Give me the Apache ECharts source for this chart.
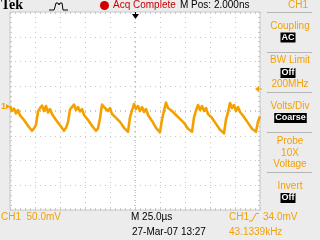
<!DOCTYPE html>
<html><head><meta charset="utf-8">
<script src="https://cdn.jsdelivr.net/npm/echarts@6/dist/echarts.min.js"></script>
<style>html,body{margin:0;padding:0;background:#ececec;}#c{width:320px;height:240px;}</style>
</head><body><div id="c"></div>
<script>
// Sample grid of the CH1 record (time in µs, 25 µs/div, 10 div)
const sampleStartUs = -125;
const sampleStepUs = 2;
const ch1mV = [10,0,5,-5,2,-9,-6,-18,-17,-30,-26,-40,-35,
  -28,-1,6,11,0,10,-3,4,-6,-5,-18,-16,-29,-28,-40,-34,
  -23,3,7,13,2,8,-1,4,-8,-5,-18,-16,-30,-29,-40,-35,
  -15,13,8,12,0,6,-6,-2,-14,-10,-22,-20,-34,-32,-42,
  -13,1,14,4,10,0,8,-2,4,-8,-6,-20,-20,-34,-32,-43,
  -17,1,17,6,10,0,4,-8,-4,-16,-12,-24,-22,-36,-32,-42,
  -13,1,12,2,10,0,6,-6,-2,-14,-12,-26,-24,-38,-34,-45,
  -17,-3,16,6,12,0,8,-2,2,-12,-10,-24,-22,-36,-32,-42,-21,-11];
// Axis ranges
const timeRange = [-125, 125];     // µs
const voltRange = [-200, 200];     // mV
const timeDiv = 25, voltDiv = 50;
// Menu texts
const topTexts = {brand:'Tek', acq:'Acq Complete', mpos:'M Pos: 2.000ns', ch:'CH1'};
const menuLabels = ['Coupling','BW Limit','200MHz','Volts/Div','Probe','10X','Voltage','Invert'];
const menuValues = ['AC','Off','Coarse','Off'];
const bottomTexts = {scale:'CH1  50.0mV', time:'M 25.0µs', date:'27-Mar-07 13:27', trig:'CH1', trigLevel:'34.0mV', freq:'43.1339kHz'};

const ORANGE = '#f4a100', GRIDC = '#c8c8c8';
const F = '"Liberation Sans", Arial, sans-serif';
function txt(x, y, s, o) {
  return {type:'text', x:x, y:y, silent:true, z:100,
    style:Object.assign({text:s, fill:'#000', font:'10px ' + F, align:'left', verticalAlign:'middle'}, o || {})};
}
function inv(cx, cy, s) {
  return txt(cx, cy, s, {fill:'#fff', backgroundColor:'#000', padding:[1,1,0,1], align:'center', lineHeight:9, font:'bold 9px ' + F});
}
function hline(x1, x2, y, c) {
  return {type:'line', silent:true, shape:{x1:x1, y1:y, x2:x2, y2:y}, style:{stroke:c, lineWidth:1}};
}

const chart = echarts.init(document.getElementById('c'), null, {renderer:'canvas', width:320, height:240});

function tickAxis(pos, interval, min, max, inside, len, extra) {
  return Object.assign({type:'value', min:min, max:max, interval:interval, position:pos,
    axisLine:{show:false, onZero:false}, axisLabel:{show:false}, splitLine:{show:false},
    axisTick:{show:true, inside:inside, length:len, lineStyle:{color:GRIDC}}}, extra || {});
}

const graphics = [
  txt(1, 5.5, topTexts.brand, {font:'bold 14px "Liberation Serif", serif'}),
  {type:'polyline', silent:true, shape:{points:[[49,10],[54,10],[55,7],[56,3],[58,3],[59,5],[60,3],[62,3],[63,10],[68,10]]}, style:{stroke:'#000', lineWidth:1, fill:null}},
  {type:'circle', silent:true, shape:{cx:104.5, cy:5.5, r:4.5}, style:{fill:'#d00000'}},
  txt(113, 5.5, topTexts.acq, {fill:'#c80000'}),
  txt(180, 5.5, topTexts.mpos),
  txt(288, 5.5, topTexts.ch, {fill:ORANGE}),
  hline(267, 312, 12.5, '#b4b4b4'),
  hline(267, 312, 52.5, '#b4b4b4'),
  hline(267, 312, 92.5, '#b4b4b4'),
  hline(267, 312, 132.5, '#b4b4b4'),
  hline(267, 312, 172.5, '#b4b4b4'),
  txt(290, 26, menuLabels[0], {fill:ORANGE, align:'center'}),
  inv(288, 37.5, menuValues[0]),
  txt(290, 60, menuLabels[1], {fill:ORANGE, align:'center'}),
  inv(288, 73, menuValues[1]),
  txt(290, 84, menuLabels[2], {fill:ORANGE, align:'center'}),
  txt(290, 106, menuLabels[3], {fill:ORANGE, align:'center'}),
  inv(290.5, 118, menuValues[2]),
  txt(290, 141, menuLabels[4], {fill:ORANGE, align:'center'}),
  txt(290, 153, menuLabels[5], {fill:ORANGE, align:'center'}),
  txt(290, 164, menuLabels[6], {fill:ORANGE, align:'center'}),
  txt(290, 186, menuLabels[7], {fill:ORANGE, align:'center'}),
  inv(288, 198, menuValues[3]),
  // trigger position marker
  {type:'polygon', silent:true, z:100, shape:{points:[[132,14],[139,14],[135.5,19]]}, style:{fill:'#000'}},
  {type:'line', silent:true, z:100, shape:{x1:135.5, y1:12, x2:135.5, y2:15}, style:{stroke:'#000', lineWidth:1}},
  // channel 1 ground marker
  txt(1, 106.5, '1', {fill:ORANGE, font:'bold 9px ' + F}),
  {type:'polygon', silent:true, z:100, shape:{points:[[6,104],[10,106.5],[6,109]]}, style:{fill:ORANGE}},
  // trigger level marker
  {type:'polygon', silent:true, z:100, shape:{points:[[255,89],[259,86],[259,92]]}, style:{fill:ORANGE}},
  {type:'line', silent:true, z:100, shape:{x1:258, y1:89, x2:262, y2:89}, style:{stroke:ORANGE, lineWidth:1}},
  // bottom readouts
  txt(1, 217, bottomTexts.scale, {fill:ORANGE}),
  txt(131, 217, bottomTexts.time),
  txt(132, 232, bottomTexts.date),
  txt(229, 217, bottomTexts.trig, {fill:ORANGE}),
  {type:'polyline', silent:true, shape:{points:[[249,221],[252,221],[256,213.5],[259,213.5]]}, style:{stroke:ORANGE, lineWidth:1, fill:null}},
  txt(263, 217, bottomTexts.trigLevel, {fill:ORANGE}),
  txt(229, 232, bottomTexts.freq, {fill:ORANGE})
];

chart.setOption({
  animation:false,
  backgroundColor:'#ececec',
  grid:{left:10, top:12, width:250, height:198, show:true, backgroundColor:'#fff', borderColor:GRIDC, borderWidth:1},
  xAxis:[
    {type:'value', min:timeRange[0], max:timeRange[1], interval:timeDiv, axisLine:{show:false, onZero:false}, axisTick:{show:false}, axisLabel:{show:false},
      splitLine:{show:true, lineStyle:{color:GRIDC, type:[1,4], width:1}}},
    tickAxis('bottom', 5, timeRange[0], timeRange[1], true, 2),
    tickAxis('top', 5, timeRange[0], timeRange[1], true, 2),
    tickAxis('bottom', 5, timeRange[0], timeRange[1], true, 1, {axisLine:{show:false, onZero:true, onZeroAxisIndex:0}}),
    tickAxis('bottom', 5, timeRange[0], timeRange[1], false, 1, {axisLine:{show:false, onZero:true, onZeroAxisIndex:0}})
  ],
  yAxis:[
    {type:'value', min:voltRange[0], max:voltRange[1], interval:voltDiv, axisLine:{show:false, onZero:false}, axisTick:{show:false}, axisLabel:{show:false},
      splitLine:{show:true, lineStyle:{color:GRIDC, type:[1,4], width:1}}},
    tickAxis('left', 10, voltRange[0], voltRange[1], true, 2),
    tickAxis('right', 10, voltRange[0], voltRange[1], true, 2),
    tickAxis('left', 10, voltRange[0], voltRange[1], true, 1, {axisLine:{show:false, onZero:true, onZeroAxisIndex:0}}),
    tickAxis('left', 10, voltRange[0], voltRange[1], false, 1, {axisLine:{show:false, onZero:true, onZeroAxisIndex:0}})
  ],
  series:[{
    type:'line', xAxisIndex:0, yAxisIndex:0, symbol:'none', clip:true, z:10,
    lineStyle:{color:ORANGE, width:2.6, join:'round'},
    data: ch1mV.map(function (v, i) { return [sampleStartUs + i * sampleStepUs, v]; })
  }],
  graphic: graphics
});
</script>
</body></html>
